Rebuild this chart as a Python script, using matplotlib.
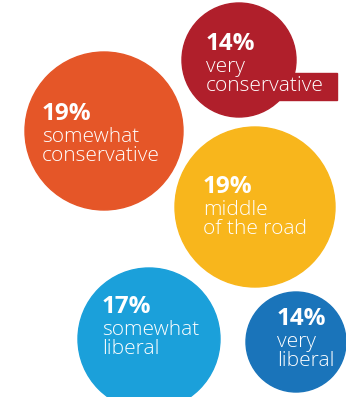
import matplotlib.pyplot as plt
from matplotlib.patches import Circle, Rectangle

# data
groups = ["very conservative", "somewhat conservative", "middle of the road",
          "somewhat liberal", "very liberal"]
shares = [14, 19, 19, 17, 14]
label_lines = [["very", "conservative"], ["somewhat", "conservative"],
               ["middle", "of the road"], ["somewhat", "liberal"],
               ["very", "liberal"]]

# layout (pixels)
colors = ["#B01F2B", "#E55628", "#F8B61C", "#1BA0DA", "#1A74BA"]
centers = [(239, 60), (104, 131), (255, 207), (149, 339), (296, 342)]
radii = [57, 79, 80, 71, 50]
text_x = [206, 42, 203, 102, 277]
text_y = [50, 120, 193, 313, 325]   # baseline of the percentage

plt.rcParams["font.family"] = ["Open Sans", "DejaVu Sans"]

fig = plt.figure(figsize=(3.46, 3.97), dpi=100)
ax = fig.add_axes([0, 0, 1, 1])
ax.set_xlim(0, 346)
ax.set_ylim(397, 0)
ax.set_aspect("equal")
ax.axis("off")

for i in range(len(groups)):
    ax.add_patch(Circle(centers[i], radii[i], color=colors[i], zorder=1))
    # red box sticking out of the small top circle
    if i == 0:
        ax.add_patch(Rectangle((230, 73), 107, 27, color=colors[i], zorder=1))
    x, y = text_x[i], text_y[i]
    ax.text(x, y, "%d%%" % shares[i], color="white", fontsize=17.5,
            fontweight="bold", ha="left", va="baseline", zorder=3)
    for k, line in enumerate(label_lines[i]):
        ax.text(x, y + 22 + 19 * k, line, color="white", fontsize=15,
                fontweight="light", ha="left", va="baseline", zorder=3)

fig.savefig("out.png", dpi=100)
